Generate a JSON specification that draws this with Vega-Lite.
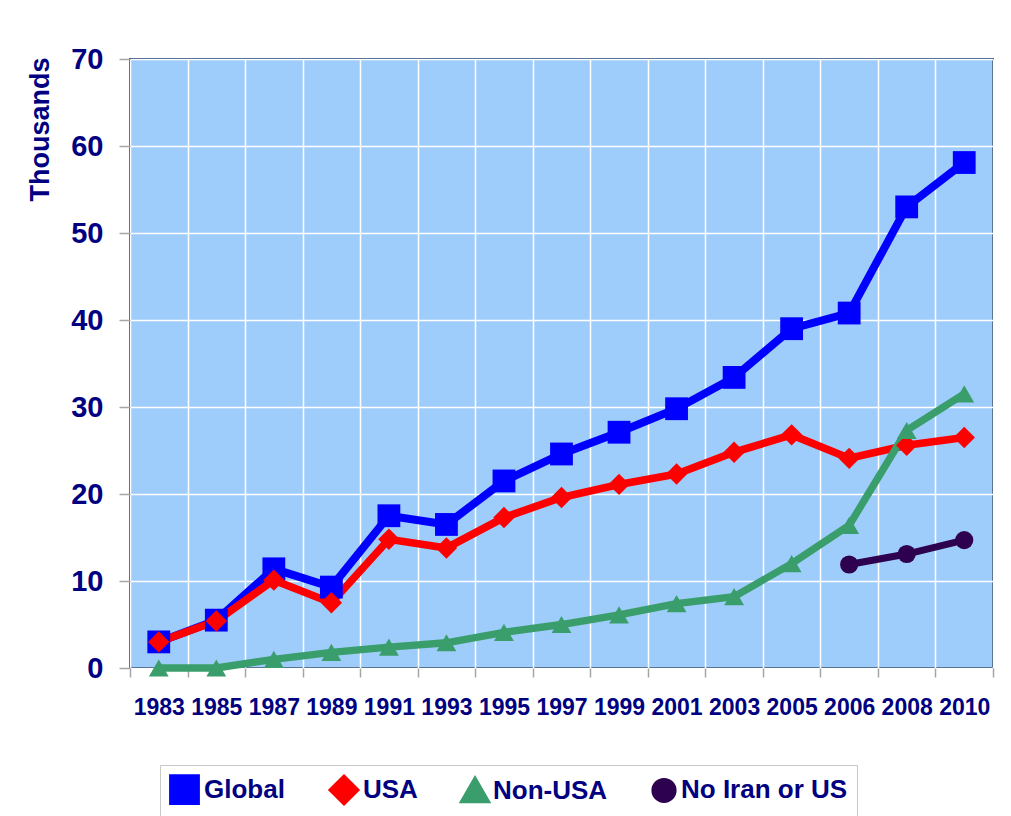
{
  "$schema": "https://vega.github.io/schema/vega-lite/v6.json",
  "autosize": {"type": "none"},
  "width": 863,
  "height": 609,
  "padding": {"left": 130, "top": 59, "right": 18, "bottom": 148},
  "background": "white",
  "data": {"values": [
    {"year": "1983", "series": "Global", "value": 3.0},
    {"year": "1985", "series": "Global", "value": 5.5},
    {"year": "1987", "series": "Global", "value": 11.4},
    {"year": "1989", "series": "Global", "value": 9.3},
    {"year": "1991", "series": "Global", "value": 17.5},
    {"year": "1993", "series": "Global", "value": 16.5},
    {"year": "1995", "series": "Global", "value": 21.5},
    {"year": "1997", "series": "Global", "value": 24.6},
    {"year": "1999", "series": "Global", "value": 27.1},
    {"year": "2001", "series": "Global", "value": 29.8},
    {"year": "2003", "series": "Global", "value": 33.4},
    {"year": "2005", "series": "Global", "value": 39.0},
    {"year": "2006", "series": "Global", "value": 40.8},
    {"year": "2008", "series": "Global", "value": 53.0},
    {"year": "2010", "series": "Global", "value": 58.1},
    {"year": "1983", "series": "USA", "value": 3.0},
    {"year": "1985", "series": "USA", "value": 5.4},
    {"year": "1987", "series": "USA", "value": 10.1},
    {"year": "1989", "series": "USA", "value": 7.5},
    {"year": "1991", "series": "USA", "value": 14.8},
    {"year": "1993", "series": "USA", "value": 13.8},
    {"year": "1995", "series": "USA", "value": 17.3},
    {"year": "1997", "series": "USA", "value": 19.6},
    {"year": "1999", "series": "USA", "value": 21.1},
    {"year": "2001", "series": "USA", "value": 22.3},
    {"year": "2003", "series": "USA", "value": 24.8},
    {"year": "2005", "series": "USA", "value": 26.8},
    {"year": "2006", "series": "USA", "value": 24.1},
    {"year": "2008", "series": "USA", "value": 25.6},
    {"year": "2010", "series": "USA", "value": 26.5},
    {"year": "1983", "series": "Non-USA", "value": 0.0},
    {"year": "1985", "series": "Non-USA", "value": 0.0},
    {"year": "1987", "series": "Non-USA", "value": 1.0},
    {"year": "1989", "series": "Non-USA", "value": 1.8},
    {"year": "1991", "series": "Non-USA", "value": 2.4},
    {"year": "1993", "series": "Non-USA", "value": 2.9},
    {"year": "1995", "series": "Non-USA", "value": 4.1},
    {"year": "1997", "series": "Non-USA", "value": 5.0},
    {"year": "1999", "series": "Non-USA", "value": 6.1},
    {"year": "2001", "series": "Non-USA", "value": 7.4},
    {"year": "2003", "series": "Non-USA", "value": 8.2},
    {"year": "2005", "series": "Non-USA", "value": 12.0},
    {"year": "2006", "series": "Non-USA", "value": 16.4},
    {"year": "2008", "series": "Non-USA", "value": 27.3},
    {"year": "2010", "series": "Non-USA", "value": 31.5},
    {"year": "2006", "series": "No Iran or US", "value": 11.9},
    {"year": "2008", "series": "No Iran or US", "value": 13.1},
    {"year": "2010", "series": "No Iran or US", "value": 14.7}
  ]},
  "encoding": {
    "x": {
      "field": "year", "type": "ordinal",
      "scale": {"paddingInner": 0, "paddingOuter": 0},
      "axis": {
        "title": null, "labelAngle": 0, "tickBand": "extent",
        "grid": true, "gridColor": "white", "gridWidth": 1.5,
        "domain": false, "ticks": true, "tickColor": "#A6A6A6", "tickSize": 9, "tickWidth": 1.5,
        "labelFont": "Liberation Sans", "labelFontWeight": "bold", "labelFontSize": 23,
        "labelColor": "#000080", "labelPadding": 19, "labelOverlap": false
      }
    },
    "y": {
      "field": "value", "type": "quantitative",
      "scale": {"domain": [0, 70], "nice": false},
      "axis": {
        "title": "Thousands", "values": [0, 10, 20, 30, 40, 50, 60, 70],
        "grid": true, "gridColor": "white", "gridWidth": 1.5,
        "domain": false, "tickColor": "#A6A6A6", "tickSize": 11, "tickWidth": 1.5,
        "labelFont": "Liberation Sans", "labelFontWeight": "bold", "labelFontSize": 29,
        "labelColor": "#000080", "labelPadding": 16,
        "titleFont": "Liberation Sans", "titleFontWeight": "bold", "titleFontSize": 27,
        "titleColor": "#000080", "titleAngle": -90, "titleX": -90, "titleY": -2,
        "titleAlign": "right", "titleBaseline": "middle"
      }
    },
    "color": {
      "field": "series", "type": "nominal",
      "scale": {"domain": ["Global", "USA", "Non-USA", "No Iran or US"], "range": ["#0000FF", "#FF0000", "#3A9E6C", "#2E0050"]},
      "legend": {
        "title": null, "orient": "none", "legendX": 30, "legendY": 706, "direction": "horizontal",
        "fillColor": "white", "strokeColor": "#C8C8C8", "padding": 9,
        "labelFont": "Liberation Sans", "labelFontWeight": "bold", "labelFontSize": 26,
        "labelColor": "#000080", "labelLimit": 400, "symbolSize": 420, "columnPadding": 32, "labelOffset": 4,
        "symbolStrokeWidth": 0, "symbolOpacity": 1
      }
    }
  },
  "layer": [
    {
      "mark": {"type": "line"},
      "encoding": {
        "strokeWidth": {
          "field": "series", "type": "nominal",
          "scale": {"domain": ["Global", "USA", "Non-USA", "No Iran or US"], "range": [8, 7, 6, 5]},
          "legend": null
        }
      }
    },
    {
      "mark": {"type": "point", "filled": true, "opacity": 1},
      "encoding": {
        "shape": {
          "field": "series", "type": "nominal",
          "scale": {"domain": ["Global", "USA", "Non-USA", "No Iran or US"], "range": ["square", "diamond", "triangle-up", "circle"]}
        },
        "size": {
          "field": "series", "type": "nominal",
          "scale": {"domain": ["Global", "USA", "Non-USA", "No Iran or US"], "range": [520, 330, 330, 420]},
          "legend": null
        }
      }
    }
  ],
  "config": {
    "view": {"fill": "#9FCDFB", "stroke": "#25466F", "strokeWidth": 2}
  }
}
